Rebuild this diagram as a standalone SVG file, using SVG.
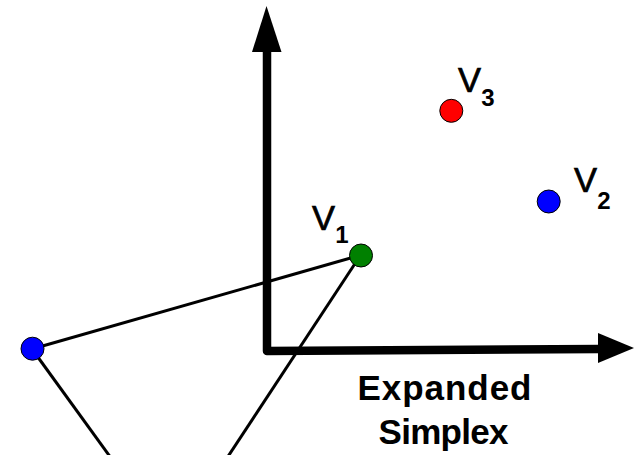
<svg xmlns="http://www.w3.org/2000/svg" width="634" height="455" viewBox="0 0 634 455">
<style>
.axis{fill:none;stroke:#000;stroke-width:8.5;stroke-linejoin:round;stroke-linecap:butt}
.edge{stroke:#000;stroke-width:3;fill:none}
.pt{stroke:#000;stroke-width:1}
.lbl{font-family:"Liberation Sans",Arial,sans-serif;font-size:34.5px;fill:#000;stroke:#000;stroke-width:0.7}
.sub{font-family:"Liberation Sans",Arial,sans-serif;font-size:24px;font-weight:bold;fill:#000}
.cap{font-family:"Liberation Sans",Arial,sans-serif;font-size:35px;font-weight:bold;fill:#000}
</style>
<rect width="634" height="455" fill="#fff"/>
<g id="connectors">
<line class="edge" x1="32" y1="349" x2="361" y2="255"/>
<line class="edge" x1="32" y1="349" x2="111" y2="458"/>
<line class="edge" x1="360" y1="256" x2="227" y2="458"/>
</g>
<g id="axes">
<path class="axis" d="M267,48 L267,351 L600,349"/>
<polygon points="266.5,6 281.5,52 252,52" fill="#000"/>
<polygon points="634,348 598,333 598,363" fill="#000"/>
</g>
<g id="v1">
<circle class="pt" cx="361" cy="255.5" r="11.5" fill="#008000"/>
<text class="lbl" x="312" y="230">V</text>
<text class="sub" x="335.2" y="242.5">1</text>
</g>
<g id="v3">
<circle class="pt" cx="451.3" cy="110.8" r="11.5" fill="#ff0000"/>
<text class="lbl" x="458" y="92">V</text>
<text class="sub" x="481.2" y="105.5">3</text>
</g>
<g id="v2">
<circle class="pt" cx="548.7" cy="201.5" r="11.5" fill="#0000ff"/>
<text class="lbl" x="574" y="192">V</text>
<text class="sub" x="597.2" y="209.3">2</text>
</g>
<g id="v0">
<circle class="pt" cx="32.5" cy="348.7" r="11.5" fill="#0000ff"/>
</g>
<g id="caption">
<text class="cap" x="357.5" y="399.5" textLength="174" lengthAdjust="spacing">Expanded</text>
<text class="cap" x="378.5" y="443.5" textLength="130" lengthAdjust="spacing">Simplex</text>
</g>
</svg>
